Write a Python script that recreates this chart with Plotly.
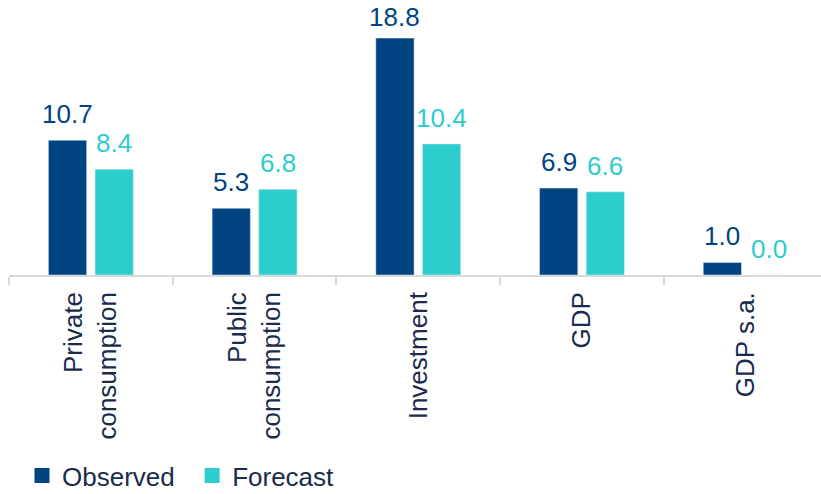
import plotly.graph_objects as go

categories = ["Private<br>consumption", "Public<br>consumption", "Investment", "GDP", "GDP s.a."]
observed = [10.7, 5.3, 18.8, 6.9, 1.0]
forecast = [8.4, 6.8, 10.4, 6.6, 0.0]
series_names = ["Observed", "Forecast"]

NAVY = "#004481"
TEAL = "#2DCCCD"
TEXT = "#1A2B4C"
FONT = "Liberation Sans, Arial, sans-serif"
FS = 26

fig = go.Figure()
fig.add_trace(go.Bar(name=series_names[0], x=categories, y=observed,
                     marker_color=NAVY, showlegend=False))
fig.add_trace(go.Bar(name=series_names[1], x=categories, y=forecast,
                     marker_color=TEAL, showlegend=False))

# legend-only entries with larger square swatches
for nm, col in ((series_names[0] + "\u00a0\u2009", NAVY), (series_names[1], TEAL)):
    fig.add_trace(go.Scatter(name=nm, x=[None], y=[None], mode="markers",
                             marker=dict(symbol="square", size=15, color=col),
                             hoverinfo="skip"))

# value labels, placed through the data scales
for vals, col, shift in ((observed, NAVY, -23.4), (forecast, TEAL, 23.4)):
    for c, v in zip(categories, vals):
        fig.add_annotation(x=c, y=v, xref="x", yref="y", text=f"{v:.1f}",
                           showarrow=False, yanchor="bottom", xanchor="center",
                           xshift=shift, yshift=(4 if v > 18 else 9),
                           font=dict(size=FS, color=col, family=FONT))

fig.update_layout(
    width=821, height=494,
    margin=dict(l=9, r=0, t=23, b=219, autoexpand=False),
    paper_bgcolor="white", plot_bgcolor="white",
    barmode="group", bargap=0.43, bargroupgap=0.18,
    font=dict(family=FONT, color=TEXT, size=FS),
    showlegend=True,
    legend=dict(orientation="h", x=0.016, xanchor="left", yref="container",
                y=0.037, yanchor="middle", itemsizing="trace",
                font=dict(size=FS, color=TEXT, family=FONT),
                traceorder="normal", bgcolor="rgba(0,0,0,0)"),
)
fig.update_xaxes(
    range=[-0.5, 4.46], tickangle=-90, tickson="boundaries",
    showline=True, linecolor="#D9D9D9", linewidth=1.5,
    ticks="outside", ticklen=8, tickcolor="#D9D9D9", tickwidth=1.5,
    ticklabelstandoff=5, automargin=False,
    showgrid=False, tickfont=dict(size=FS, color=TEXT, family=FONT),
)
fig.update_yaxes(range=[0, 20], visible=False, showgrid=False, zeroline=False)

fig.write_html("out.html")
